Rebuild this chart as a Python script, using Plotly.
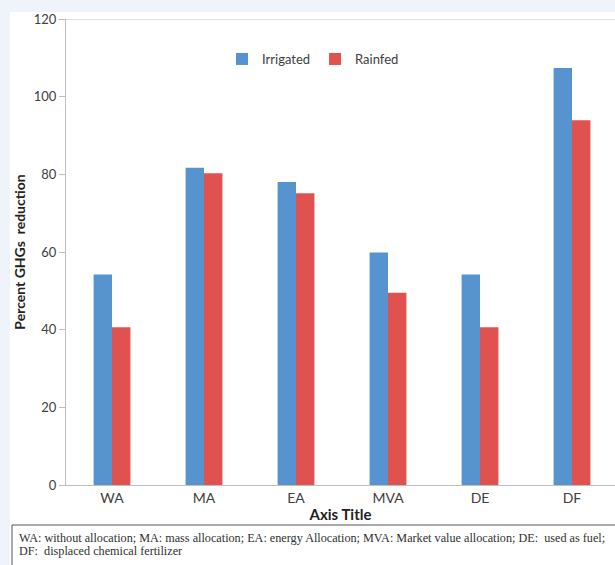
import plotly.graph_objects as go

categories = ["WA", "MA", "EA", "MVA", "DE", "DF"]
irrigated = [54.2, 81.7, 78.0, 59.9, 54.2, 107.4]
rainfed = [40.6, 80.3, 75.1, 49.5, 40.6, 93.9]
y_ticks = [0, 20, 40, 60, 80, 100, 120]

caption_lines = [
    "WA: without allocation; MA: mass allocation; EA: energy Allocation; MVA: Market value allocation; DE:  used as fuel;",
    "DF:  displaced chemical fertilizer",
]

W, H = 615, 565
BLUE = "#5693cf"
RED = "#e0524f"
TXT = "#404040"
FONT = "Lato"

fig = go.Figure()
fig.add_trace(go.Bar(name="Irrigated", x=categories, y=irrigated,
                     marker=dict(color=BLUE, line=dict(width=0))))
fig.add_trace(go.Bar(name="Rainfed", x=categories, y=rainfed,
                     marker=dict(color=RED, line=dict(width=0))))

# pixel helpers for paper coordinates (plot area spans x 66..615, y 19..485)
px_x = lambda p: (p - 66) / 549
px_y = lambda p: (485 - p) / 466

# white chart card over the light page background
fig.add_shape(type="rect", xref="paper", yref="paper",
              x0=px_x(10), x1=px_x(620), y0=px_y(570), y1=px_y(12),
              fillcolor="white", line=dict(width=0), layer="below")
# top frame line at 120
fig.add_shape(type="line", xref="paper", yref="y", x0=px_x(58), x1=px_x(620),
              y0=120, y1=120, line=dict(color="#bfbfbf", width=1))

# caption box below the chart
fig.add_shape(type="rect", xref="paper", yref="paper",
              x0=px_x(12), x1=px_x(620), y0=px_y(566), y1=px_y(525),
              fillcolor="white", line=dict(color="#555555", width=1))
for i, line in enumerate(caption_lines):
    fig.add_annotation(xref="paper", yref="paper", x=px_x(17), y=px_y(537.5 + 13.5 * i),
                       text=line, showarrow=False, xanchor="left", yanchor="middle",
                       font=dict(family="Liberation Serif", size=12.2, color="#303030"))

fig.update_layout(
    width=W, height=H,
    margin=dict(l=66, r=0, t=19, b=80),
    paper_bgcolor="#eef4fa",
    plot_bgcolor="white",
    barmode="group",
    bargap=0.6,
    bargroupgap=0,
    showlegend=True,
    legend=dict(orientation="h", x=px_x(222), y=px_y(59),
                xanchor="left", yanchor="middle",
                font=dict(family=FONT, size=13, color=TXT),
                itemwidth=30, bgcolor="rgba(0,0,0,0)", traceorder="normal"),
    font=dict(family=FONT, color=TXT),
)

fig.update_xaxes(range=[-0.5, 5.5 - 3 / 92], showline=True, linecolor="#bfbfbf",
                 linewidth=1, ticks="", showgrid=False,
                 tickfont=dict(family=FONT, size=14, color=TXT),
                 title=dict(text="<b>Axis Title</b>", standoff=4,
                            font=dict(family=FONT, size=15, color="#222222")))
fig.update_yaxes(range=[0, 120], tickvals=y_ticks, showline=True, linecolor="#bfbfbf",
                 linewidth=1, ticks="outside", ticklen=6, tickcolor="#bfbfbf",
                 showgrid=False, zeroline=False,
                 tickfont=dict(family=FONT, size=13, color=TXT),
                 title=dict(text="<b>Percent GHGs  reduction</b>", standoff=4,
                            font=dict(family=FONT, size=14, color="#222222")))

fig.write_html("out.html")
